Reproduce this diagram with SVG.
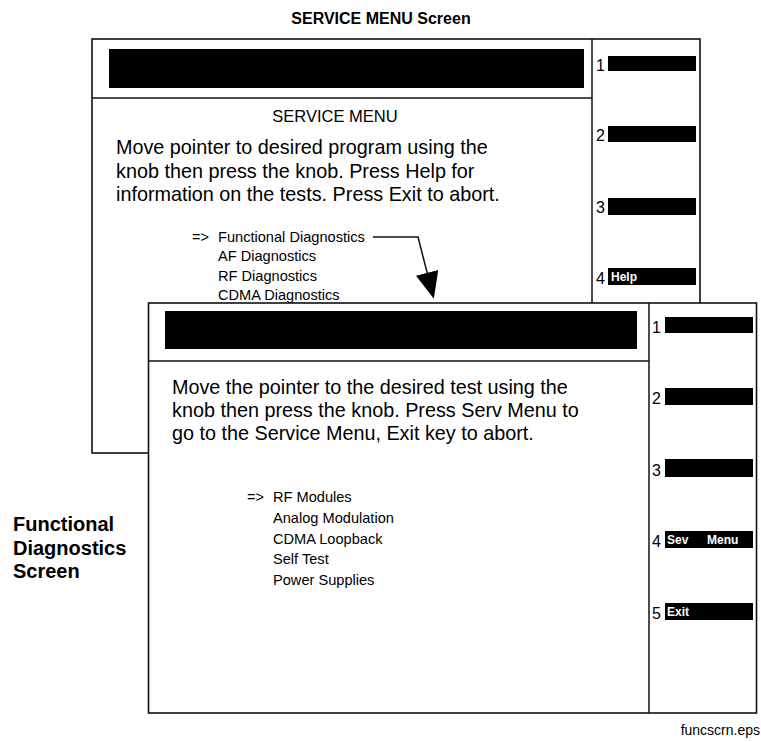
<svg xmlns="http://www.w3.org/2000/svg" width="761" height="742" viewBox="0 0 761 742">
<style>
text{font-family:"Liberation Sans",Arial,sans-serif;fill:#000}
.frame{fill:#fff;stroke:#111;stroke-width:1.6}
.rule{stroke:#111;stroke-width:1.5;fill:none}
.bar{fill:#000}
.big{font-size:19.8px}
.list{font-size:14.6px}
.num{font-size:16px}
.key{font-size:12px;font-weight:bold;fill:#fff}
.cap{font-weight:bold}
</style>
<defs>
<marker id="ah" markerWidth="27" markerHeight="23" refX="1" refY="12" orient="auto" markerUnits="userSpaceOnUse" viewBox="0 0 28 24">
<path d="M0,0 L28,12 L0,24 z" fill="#000"/>
</marker>
</defs>
<text class="cap" x="381" y="24" font-size="16" text-anchor="middle">SERVICE MENU Screen</text>
<g id="service-menu-screen">
<rect class="frame" x="92" y="39" width="608" height="414"/>
<line class="rule" x1="592" y1="39" x2="592" y2="453"/>
<line class="rule" x1="92" y1="98" x2="592" y2="98"/>
<rect class="bar" x="109" y="49" width="475" height="39"/>
<text x="335" y="122" font-size="16.5" text-anchor="middle">SERVICE MENU</text>
<text class="big" x="116" y="154">Move pointer to desired program using the</text>
<text class="big" x="116" y="178">knob then press the knob. Press Help for</text>
<text class="big" x="116" y="201">information on the tests. Press Exit to abort.</text>
<text class="list" x="192" y="242">=&gt;</text>
<text class="list" x="218" y="242">Functional Diagnostics</text>
<text class="list" x="218" y="261">AF Diagnostics</text>
<text class="list" x="218" y="281">RF Diagnostics</text>
<text class="list" x="218" y="300">CDMA Diagnostics</text>
<text class="num" x="596" y="71">1</text>
<rect class="bar" x="608" y="56" width="88" height="15"/>
<text class="num" x="596" y="141">2</text>
<rect class="bar" x="608" y="126" width="88" height="16"/>
<text class="num" x="596" y="213">3</text>
<rect class="bar" x="608" y="198" width="88" height="17"/>
<text class="num" x="596" y="284">4</text>
<rect class="bar" x="608" y="268" width="88" height="17"/>
<text class="key" x="611" y="281">Help</text>
</g>
<g id="functional-diagnostics-screen">
<rect class="frame" x="148.5" y="303" width="608" height="410"/>
<line class="rule" x1="649" y1="303" x2="649" y2="713"/>
<line class="rule" x1="148.5" y1="361" x2="649" y2="361"/>
<rect class="bar" x="165" y="311" width="472" height="38"/>
<text class="big" x="172" y="394">Move the pointer to the desired test using the</text>
<text class="big" x="172" y="417">knob then press the knob. Press Serv Menu to</text>
<text class="big" x="172" y="440">go to the Service Menu, Exit key to abort.</text>
<text class="list" x="247" y="502">=&gt;</text>
<text class="list" x="273" y="502">RF Modules</text>
<text class="list" x="273" y="523">Analog Modulation</text>
<text class="list" x="273" y="544">CDMA Loopback</text>
<text class="list" x="273" y="564">Self Test</text>
<text class="list" x="273" y="585">Power Supplies</text>
<text class="num" x="652" y="333">1</text>
<rect class="bar" x="665" y="317" width="88" height="16"/>
<text class="num" x="652" y="404">2</text>
<rect class="bar" x="665" y="388" width="88" height="17"/>
<text class="num" x="652" y="476">3</text>
<rect class="bar" x="665" y="459" width="88" height="18"/>
<text class="num" x="652" y="547">4</text>
<rect class="bar" x="665" y="531" width="88" height="17"/>
<text class="key" x="667" y="544">Sev</text>
<text class="key" x="707" y="544">Menu</text>
<text class="num" x="652" y="619">5</text>
<rect class="bar" x="665" y="603" width="88" height="17"/>
<text class="key" x="667" y="616">Exit</text>
</g>
<g id="connectors">
<polyline class="rule" points="373,237 418,237 427.4,273.8" marker-end="url(#ah)"/>
</g>
<g id="labels">
<text class="cap" font-size="20" x="13" y="531">Functional</text>
<text class="cap" font-size="20" x="13" y="555">Diagnostics</text>
<text class="cap" font-size="20" x="13" y="578">Screen</text>
<text x="760" y="735" font-size="14" text-anchor="end">funcscrn.eps</text>
</g>
</svg>
